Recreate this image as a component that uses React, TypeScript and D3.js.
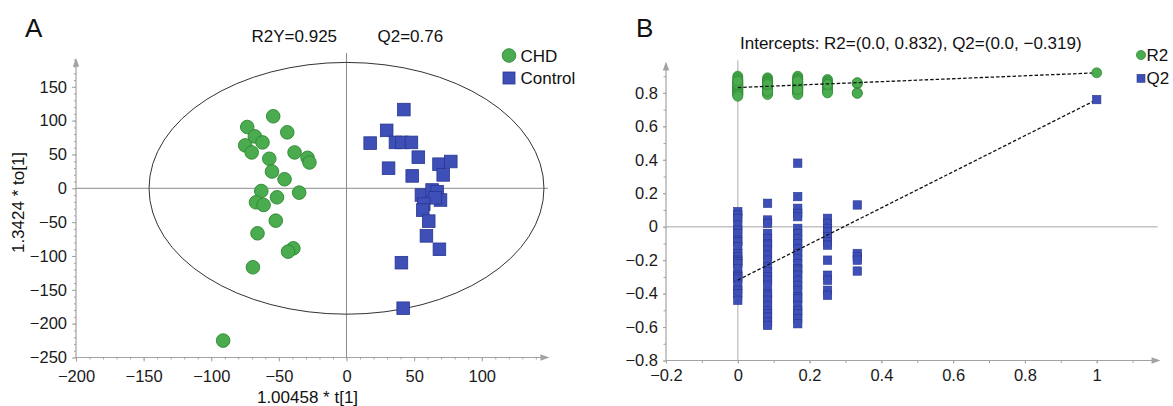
import React, { useEffect, useRef } from 'react';
import * as d3 from 'd3';

// Panel A: OPLS-DA scores [t[1], to[1]]
const chdScores: [number, number][] = [
  [-54.2, 106.4], [-73.4, 90.6], [-43.8, 82.7], [-67.8, 76.7], [-62.1, 67.8], [-74.9, 63.4],
  [-70.1, 53], [-57.1, 43.6], [-38.4, 53], [-28.8, 45], [-27.4, 38.1], [-55.1, 24.8],
  [-45.8, 13.4], [-63, -4], [-35, -6.4], [-51.4, -13.3], [-66.9, -20.7], [-61.3, -24.6],
  [-52.3, -47.8], [-65.8, -66.5], [-39.3, -88.7], [-43.2, -93.6], [-69.2, -116.7], [-91.2, -225]
];
const controlScores: [number, number][] = [
  [42.4, 116.3], [29.7, 85.6], [17.5, 66.8], [36.2, 67.8], [41, 67.8], [48, 67.8],
  [53.1, 46], [31.1, 29.7], [48.6, 18.3], [68.4, 35.6], [77.1, 39.6], [71.5, 19.8],
  [55.4, -9.9], [63.3, -2.5], [67, -5], [69.5, -17.3], [65.5, -14], [57.1, -23.3],
  [56.4, -32.2], [60.8, -48.5], [59.1, -70.3], [68.7, -90.1], [40.6, -109.9], [41.9, -177.2]
];
const scoreXTicks = [-200, -150, -100, -50, 0, 50, 100];
const scoreYTicks = [-250, -200, -150, -100, -50, 0, 50, 100, 150];
const ellipseRadii = [146, 186];

// Panel B: permutation test (200 perms style), grouped by correlation with original y
const permX = [0, 0.083, 0.167, 0.25, 0.333];
const r2Perm = [
  [0.9, 0.89, 0.88, 0.87, 0.86, 0.86, 0.85, 0.84, 0.84, 0.83, 0.83, 0.82, 0.82, 0.81, 0.81, 0.8, 0.8, 0.79, 0.79, 0.78, 0.85, 0.87],
  [0.89, 0.88, 0.87, 0.87, 0.86, 0.85, 0.85, 0.84, 0.84, 0.83, 0.83, 0.82, 0.82, 0.81, 0.81, 0.8, 0.8, 0.79, 0.86, 0.84, 0.83, 0.82, 0.81, 0.85],
  [0.9, 0.89, 0.88, 0.88, 0.87, 0.86, 0.86, 0.85, 0.85, 0.84, 0.84, 0.84, 0.83, 0.83, 0.82, 0.82, 0.81, 0.81, 0.8, 0.8, 0.79, 0.86, 0.85, 0.83, 0.82, 0.87],
  [0.88, 0.87, 0.86, 0.86, 0.85, 0.84, 0.84, 0.83, 0.82, 0.81, 0.8, 0.85],
  [0.86, 0.855, 0.86, 0.8, 0.797]
];
const q2Perm = [
  [0.09, 0.07, 0.05, 0.01, -0.02, -0.04, -0.08, -0.09, -0.12, -0.16, -0.18, -0.2, -0.21, -0.22, -0.25, -0.29, -0.3, -0.31, -0.35, -0.38, -0.4, -0.44],
  [0.14, 0.04, 0.02, -0.04, -0.07, -0.1, -0.11, -0.14, -0.17, -0.2, -0.24, -0.27, -0.3, -0.32, -0.35, -0.4, -0.41, -0.44, -0.47, -0.5, -0.52, -0.54, -0.57, -0.59],
  [0.38, 0.18, 0.11, 0.08, 0.06, -0.01, -0.04, -0.07, -0.1, -0.13, -0.16, -0.19, -0.22, -0.25, -0.26, -0.29, -0.32, -0.35, -0.38, -0.42, -0.43, -0.47, -0.5, -0.52, -0.55, -0.58],
  [0.05, 0.02, -0.01, -0.03, -0.06, -0.09, -0.11, -0.2, -0.29, -0.32, -0.38, -0.41],
  [0.13, -0.16, -0.18, -0.2, -0.265]
];
const r2Original = 0.92;
const q2Original = 0.76;
const r2Intercept = 0.832;
const q2Intercept = -0.319;
const permXTicks = [-0.2, 0, 0.2, 0.4, 0.6, 0.8, 1];
const permYTicks = [-0.8, -0.6, -0.4, -0.2, 0, 0.2, 0.4, 0.6, 0.8];

const GREEN = '#4aac4e';
const GREEN_EDGE = '#2e8633';
const BLUE = '#3e50b7';
const BLUE_EDGE = '#28368f';
const AXIS_GRAY = '#a3a3a3';
const FONT = '"Liberation Sans", Arial, Helvetica, sans-serif';

const App = () => {
  const svgRef = useRef<SVGSVGElement>(null);

  useEffect(() => {
    const svg = d3.select(svgRef.current);
    svg.selectAll('*').remove();

    const axisStyle = (g: any, fontSize = 16.5) => {
      g.select('.domain').remove();
      g.attr('font-family', FONT).attr('font-size', fontSize);
      g.selectAll('line').attr('stroke', AXIS_GRAY);
      g.selectAll('text').attr('fill', '#1a1a1a');
    };

    const arrowLine = (x1: number, y1: number, x2: number, y2: number) => {
      const horiz = y1 === y2;
      svg.append('line')
        .attr('x1', x1).attr('y1', y1)
        .attr('x2', horiz ? x2 - 6 : x2).attr('y2', horiz ? y2 : y2 + 6)
        .attr('stroke', AXIS_GRAY).attr('stroke-width', 1.2);
      const pts = horiz
        ? [[x2 - 9, y2 - 3.2], [x2, y2], [x2 - 9, y2 + 3.2]]
        : [[x2 - 3.2, y2 + 9], [x2, y2], [x2 + 3.2, y2 + 9]];
      svg.append('polygon').attr('points', pts.map((p) => p.join(',')).join(' ')).attr('fill', AXIS_GRAY);
    };

    // ---------- Panel A ----------
    const xA = d3.scaleLinear().domain([-200, 0]).range([76, 346.5]);
    const yA = d3.scaleLinear().domain([-250, 0]).range([357.5, 188.3]);

    // zero lines
    svg.append('line')
      .attr('x1', xA(-200)).attr('x2', xA(149)).attr('y1', yA(0)).attr('y2', yA(0))
      .attr('stroke', '#8c8c8c').attr('stroke-width', 1);
    svg.append('line')
      .attr('x1', xA(0)).attr('x2', xA(0)).attr('y1', yA(-250)).attr('y2', yA(200))
      .attr('stroke', '#8c8c8c').attr('stroke-width', 1);

    // axes
    svg.append('g').attr('transform', `translate(0,${yA(-250)})`)
      .call(d3.axisBottom(xA).tickValues(d3.range(-200, 141, 10)).tickSize(2).tickFormat(() => ''))
      .call(axisStyle);
    svg.append('g').attr('transform', `translate(0,${yA(-250)})`)
      .call(d3.axisBottom(xA).tickValues(scoreXTicks).tickSize(4).tickPadding(9).tickFormat(d3.format('d')))
      .call(axisStyle);
    svg.append('g').attr('transform', `translate(${xA(-200)},0)`)
      .call(d3.axisLeft(yA).tickValues(d3.range(-250, 191, 10)).tickSize(2).tickFormat(() => ''))
      .call(axisStyle);
    svg.append('g').attr('transform', `translate(${xA(-200)},0)`)
      .call(d3.axisLeft(yA).tickValues(scoreYTicks).tickSize(4).tickPadding(5).tickFormat(d3.format('d')))
      .call(axisStyle);
    arrowLine(xA(-200), yA(-250), xA(150), yA(-250));
    arrowLine(xA(-200), yA(-250), xA(-200), yA(193));

    // Hotelling ellipse
    svg.append('ellipse')
      .attr('cx', xA(0)).attr('cy', yA(0))
      .attr('rx', xA(ellipseRadii[0]) - xA(0))
      .attr('ry', yA(0) - yA(ellipseRadii[1]))
      .attr('fill', 'none').attr('stroke', '#333').attr('stroke-width', 1);

    // points
    svg.append('g').selectAll('circle').data(chdScores).join('circle')
      .attr('cx', (d) => xA(d[0])).attr('cy', (d) => yA(d[1])).attr('r', 6.8)
      .attr('fill', GREEN).attr('stroke', GREEN_EDGE).attr('stroke-width', 0.9);
    const sq = 12.6;
    svg.append('g').selectAll('rect').data(controlScores).join('rect')
      .attr('x', (d) => xA(d[0]) - sq / 2).attr('y', (d) => yA(d[1]) - sq / 2)
      .attr('width', sq).attr('height', sq)
      .attr('fill', BLUE).attr('stroke', BLUE_EDGE).attr('stroke-width', 0.8);

    // titles, labels
    const txt = (x: number, y: number, s: string, size: number, anchor = 'start') =>
      svg.append('text').attr('x', x).attr('y', y).attr('font-size', size)
        .attr('font-family', FONT).attr('fill', '#111').attr('text-anchor', anchor).text(s);

    txt(25, 37, 'A', 26);
    txt(251.5, 41.5, 'R2Y=0.925', 17);
    txt(377.5, 41.5, 'Q2=0.76', 17);
    txt(307.5, 402.5, '1.00458 * t[1]', 17, 'middle');
    svg.append('text').attr('transform', `translate(24,202.5) rotate(-90)`)
      .attr('font-size', 17).attr('font-family', FONT).attr('fill', '#111')
      .attr('text-anchor', 'middle').text('1.3424 * to[1]');

    // legend A
    svg.append('circle').attr('cx', 509).attr('cy', 55.5).attr('r', 6.8)
      .attr('fill', GREEN).attr('stroke', GREEN_EDGE).attr('stroke-width', 0.9);
    txt(520.5, 61.5, 'CHD', 17);
    svg.append('rect').attr('x', 509 - 6).attr('y', 78 - 6).attr('width', 12).attr('height', 12)
      .attr('fill', BLUE).attr('stroke', BLUE_EDGE).attr('stroke-width', 0.8);
    txt(520.5, 84, 'Control', 17);

    // ---------- Panel B ----------
    const xB = d3.scaleLinear().domain([-0.2, 1]).range([666, 1096.7]);
    const yB = d3.scaleLinear().domain([-0.8, 0]).range([360.5, 226.7]);

    svg.append('line')
      .attr('x1', xB(-0.2)).attr('x2', xB(1.17)).attr('y1', yB(0)).attr('y2', yB(0))
      .attr('stroke', '#c4c4c4').attr('stroke-width', 1.4);
    svg.append('line')
      .attr('x1', xB(0)).attr('x2', xB(0)).attr('y1', yB(-0.8)).attr('y2', yB(0.995))
      .attr('stroke', '#c4c4c4').attr('stroke-width', 1.4);

    const fmtB = d3.format('~g');
    svg.append('g').attr('transform', `translate(0,${yB(-0.8)})`)
      .call(d3.axisBottom(xB).tickValues(d3.range(-2, 12).map((i) => i / 10)).tickSize(2.5).tickFormat(() => ''))
      .call(axisStyle);
    svg.append('g').attr('transform', `translate(0,${yB(-0.8)})`)
      .call(d3.axisBottom(xB).tickValues(permXTicks).tickSize(3).tickPadding(6).tickFormat((d: any) => fmtB(d)))
      .call(axisStyle);
    svg.append('g').attr('transform', `translate(${xB(-0.2)},0)`)
      .call(d3.axisLeft(yB).tickValues(d3.range(-8, 10).map((i) => i / 10)).tickSize(2.5).tickFormat(() => ''))
      .call(axisStyle);
    svg.append('g').attr('transform', `translate(${xB(-0.2)},0)`)
      .call(d3.axisLeft(yB).tickValues(permYTicks).tickSize(3).tickPadding(5).tickFormat((d: any) => fmtB(d)))
      .call(axisStyle);
    arrowLine(xB(-0.2), yB(-0.8), xB(1.178), yB(-0.8));
    arrowLine(xB(-0.2), yB(-0.8), xB(-0.2), yB(0.987));

    // permutation points
    const r2Pts = permX.flatMap((x, i) => r2Perm[i].map((v) => [x, v]));
    const q2Pts = permX.flatMap((x, i) => q2Perm[i].map((v) => [x, v]));
    const sqB = 8.4;
    svg.append('g').selectAll('rect').data(q2Pts).join('rect')
      .attr('x', (d) => xB(d[0]) - sqB / 2).attr('y', (d) => yB(d[1]) - sqB / 2)
      .attr('width', sqB).attr('height', sqB)
      .attr('fill', BLUE).attr('stroke', BLUE_EDGE).attr('stroke-width', 0.6);
    svg.append('g').selectAll('circle').data(r2Pts).join('circle')
      .attr('cx', (d) => xB(d[0])).attr('cy', (d) => yB(d[1])).attr('r', 5)
      .attr('fill', GREEN).attr('stroke', GREEN_EDGE).attr('stroke-width', 0.7);

    // intercept regression lines
    const line = d3.line<[number, number]>().x((d) => xB(d[0])).y((d) => yB(d[1]));
    [[[0, r2Intercept], [1, r2Original]], [[0, q2Intercept], [1, q2Original]]].forEach((seg) => {
      svg.append('path').attr('d', line(seg as [number, number][]))
        .attr('fill', 'none').attr('stroke', '#111').attr('stroke-width', 1.3)
        .attr('stroke-dasharray', '3.5,2');
    });

    svg.append('circle').attr('cx', xB(1)).attr('cy', yB(r2Original)).attr('r', 5)
      .attr('fill', GREEN).attr('stroke', GREEN_EDGE).attr('stroke-width', 0.7);
    svg.append('rect').attr('x', xB(1) - sqB / 2).attr('y', yB(q2Original) - sqB / 2)
      .attr('width', sqB).attr('height', sqB)
      .attr('fill', BLUE).attr('stroke', BLUE_EDGE).attr('stroke-width', 0.6);

    txt(636, 37, 'B', 26);
    txt(740, 48.5, 'Intercepts: R2=(0.0, 0.832), Q2=(0.0, \u22120.319)', 17);

    // legend B
    svg.append('circle').attr('cx', 1141).attr('cy', 55).attr('r', 4.6)
      .attr('fill', GREEN).attr('stroke', GREEN_EDGE).attr('stroke-width', 0.7);
    txt(1146.5, 61, 'R2', 17);
    svg.append('rect').attr('x', 1141 - 4).attr('y', 78.3 - 4).attr('width', 8).attr('height', 8)
      .attr('fill', BLUE).attr('stroke', BLUE_EDGE).attr('stroke-width', 0.6);
    txt(1146.5, 84, 'Q2', 17);
  }, []);

  return (
    <svg
      ref={svgRef}
      width={1173}
      height={406}
      style={{ position: 'absolute', left: 0, top: 0, background: '#fff' }}
    />
  );
};

export default App;
